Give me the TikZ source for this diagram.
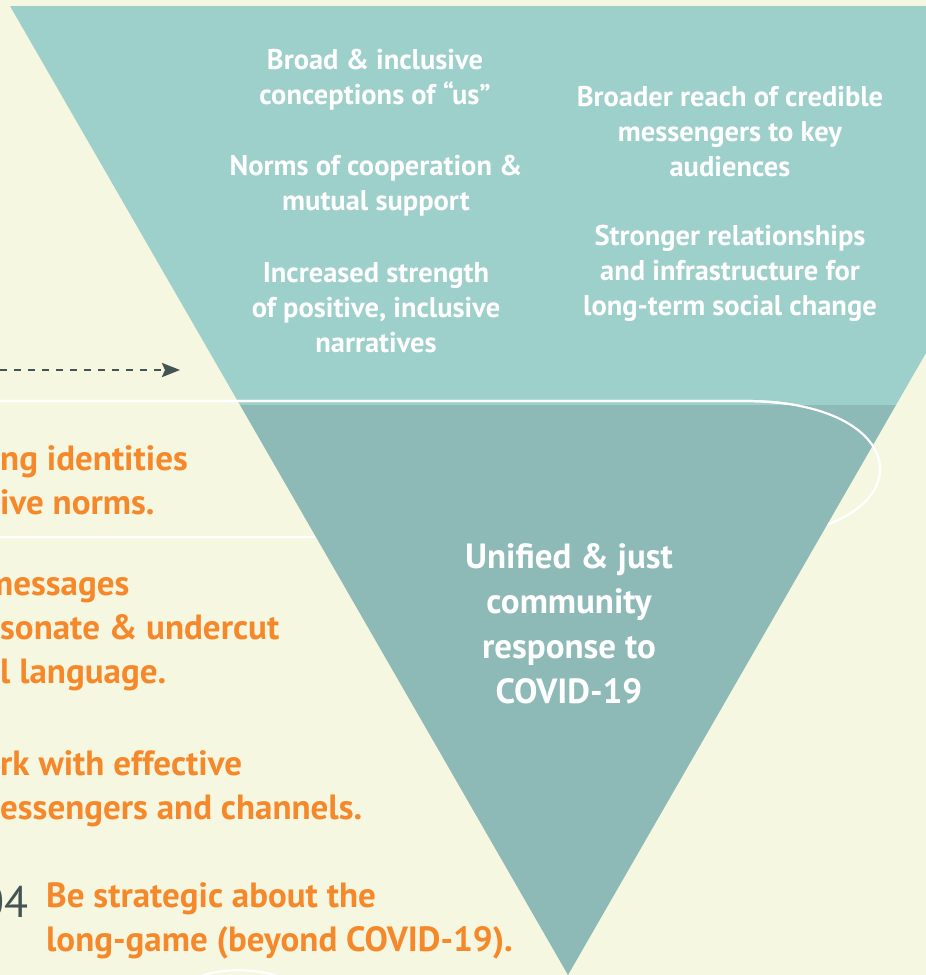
\documentclass[tikz,border=0pt]{standalone}
\usepackage{fontspec}
\setmainfont{PT Sans}
\usetikzlibrary{arrows.meta}
\definecolor{cream}{HTML}{F6F7E0}
\definecolor{tealL}{HTML}{9DCFCB}
\definecolor{tealD}{HTML}{8DB9B6}
\definecolor{orng}{HTML}{F5882A}
\definecolor{dgray}{HTML}{435453}
\tikzset{
  wtext/.style={text=white, font=\bfseries\fontsize{28.5}{35}\selectfont, align=center, inner sep=0pt},
  ctext/.style={text=white, font=\bfseries\fontsize{35}{45}\selectfont, align=center, inner sep=0pt},
  otext/.style={text=orng, font=\bfseries\fontsize{35}{44}\selectfont, align=left, inner sep=0pt, anchor=west},
  numtext/.style={text=dgray, font=\fontsize{44}{44}\selectfont, inner sep=0pt, anchor=east},
  wline/.style={white, line width=2.2pt},
  darrow/.style={dgray, line width=2.8pt, dash pattern=on 7pt off 7pt, -{Stealth[length=18pt,width=14pt,inset=3pt]}}
}
\begin{document}
\begin{tikzpicture}[x=1pt,y=-1pt]
\useasboundingbox (0,0) rectangle (926,975);
\clip (0,0) rectangle (926,975);
\fill[cream] (0,0) rectangle (926,975);
% upper light band of the funnel
\fill[tealL] (10,6) -- (1126,6) -- (896,405) -- (240,405) -- cycle;
% white racetrack line
\draw[wline] (0,537) -- (745,537) .. controls (925,537) and (925,401) .. (745,401) -- (0,401);
% lower dark triangle
\fill[tealD] (240,405) -- (896,405) -- (568,975) -- cycle;
\begin{scope}
  \clip (0,380) rectangle (926,469);
  \draw[wline] (0,537) -- (745,537) .. controls (925,537) and (925,401) .. (745,401) -- (0,401);
\end{scope}
% bottom arc
\draw[wline] (192,980) .. controls (215,967) and (262,967) .. (287,980);
% dashed arrow
\coordinate (as) at (0,370);
\coordinate (ae) at (180,370);
\draw[darrow] (as) -- (ae);
% white outcome texts
\node[wtext] (t1) at (375,80) {Broad \& inclusive\\conceptions of “us”};
\node[wtext] (t2) at (376,186) {Norms of cooperation \&\\mutual support};
\node[wtext] (t3) at (376,308) {Increased strength\\of positive, inclusive\\narratives};
\node[wtext] (t4) at (730,132) {Broader reach of credible\\messengers to key\\audiences};
\node[wtext] (t5) at (730,273) {Stronger relationships\\and infrastructure for\\long-term social change};
\node[ctext] (goal) at (569,624) {Unified \& just\\community\\response to\\COVID-19};
% orange strategies
\node[otext] (s1) at (0,480) {ng identities\\ive norms.};
\node[otext] (s2) at (0,634) {\hspace*{-15pt}messages\\sonate \& undercut\\l language.};
\node[otext] (s3) at (0,789) {rk with effective\\essengers and channels.};
\node[numtext] (n4) at (29,902) {04};
\node[otext] (s4) at (46,921) {Be strategic about the\\long-game (beyond COVID-19).};
\end{tikzpicture}
\end{document}
